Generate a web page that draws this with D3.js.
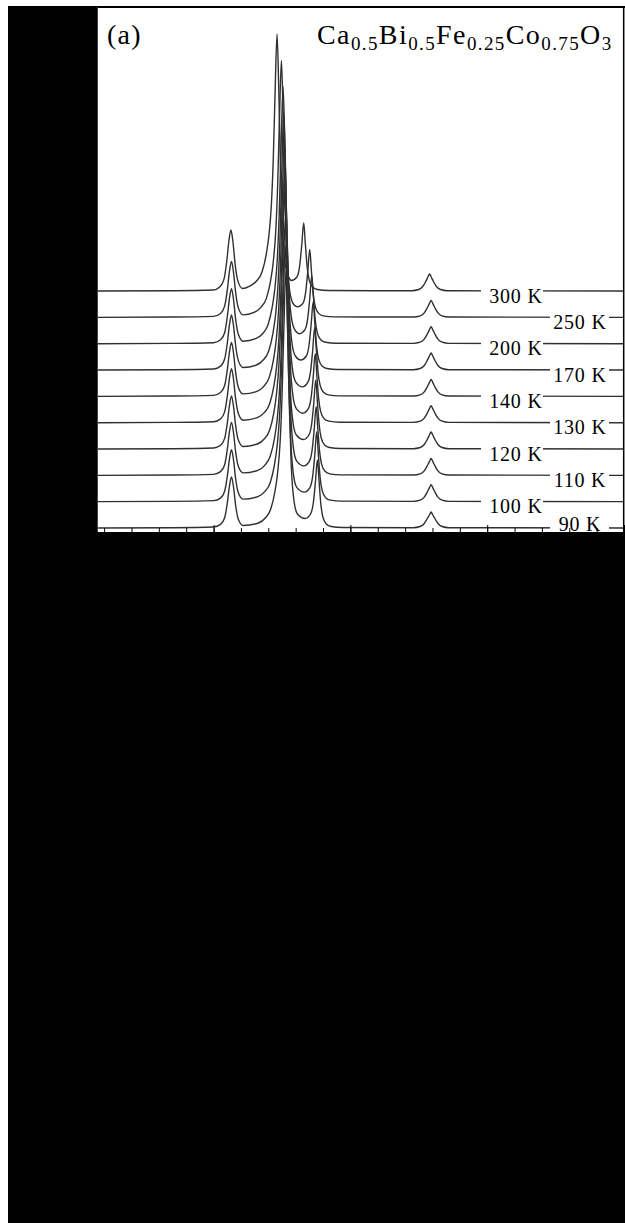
<!DOCTYPE html>
<html>
<head>
<meta charset="utf-8">
<script src="https://cdn.jsdelivr.net/npm/d3@7"></script>
<style>
  html, body { margin: 0; padding: 0; background: #fff; }
  svg { display: block; font-family: "Liberation Serif", "Times New Roman", serif; }
</style>
</head>
<body>
<div id="chart"></div>
<script>
// temperatures, top curve first
var temps = [300, 250, 200, 170, 140, 130, 120, 110, 100, 90];

// scans: [2theta, intensity]
var scan300 = [[5.150,3],[5.700,3.3],[5.997,4],[6.047,7.3],[6.077,15.2],[6.097,33.5],[6.112,53],[6.127,64],[6.142,51.8],[6.157,30.5],[6.177,13.4],[6.212,5.5],
  [6.264,8],[6.314,13],[6.354,22],[6.384,39],[6.404,58],[6.422,88],[6.436,133],[6.450,203],[6.464,260],[6.476,208],[6.489,128],[6.504,65],[6.524,30],[6.549,17],
  [6.569,13.5],[6.609,17],[6.629,28],[6.644,48],[6.659,71],[6.671,50],[6.684,27],[6.699,14],[6.724,7],[6.759,4.5],[6.839,3.5],
  [7.449,3.3],[7.499,4.5],[7.529,7.5],[7.549,12],[7.567,17],[7.579,20],[7.591,17],[7.609,12],[7.629,7.5],[7.659,4.5],[7.709,3.3],[9.000,3]];
var scan250 = [[5.150,3],[5.700,3.3],[6.001,4],[6.051,6.9],[6.081,14.2],[6.101,31],[6.116,48.9],[6.131,59],[6.146,47.8],[6.161,28.2],[6.181,12.5],[6.216,5.5],
  [6.296,8],[6.346,13],[6.386,22],[6.416,39],[6.436,58],[6.454,88],[6.468,133],[6.482,203],[6.496,260],[6.508,208],[6.521,128],[6.536,65],[6.556,30],[6.581,17],
  [6.613,13.5],[6.653,17],[6.673,28],[6.688,48],[6.703,71],[6.715,50],[6.728,27],[6.743,14],[6.768,7],[6.803,4.5],[6.883,3.5],
  [7.460,3.3],[7.510,4.5],[7.540,7.5],[7.560,12],[7.578,17],[7.590,20],[7.602,17],[7.620,12],[7.640,7.5],[7.670,4.5],[7.720,3.3],[9.000,3]];
var scan200 = [[5.150,3],[5.700,3.3],[6.001,4],[6.051,6.9],[6.081,14],[6.101,30.5],[6.116,48.1],[6.131,58],[6.146,47],[6.161,27.8],[6.181,12.4],[6.216,5.5],
  [6.308,8],[6.358,13],[6.398,22],[6.428,39],[6.448,58],[6.466,88],[6.480,133],[6.494,203],[6.508,260],[6.520,208],[6.533,128],[6.548,65],[6.568,30],[6.593,17],
  [6.628,13],[6.668,17],[6.688,28],[6.703,48],[6.718,71],[6.730,50],[6.743,27],[6.758,14],[6.783,7],[6.818,4.5],[6.898,3.5],
  [7.460,3.3],[7.510,4.5],[7.540,7.5],[7.560,12],[7.578,17],[7.590,20],[7.602,17],[7.620,12],[7.640,7.5],[7.670,4.5],[7.720,3.3],[9.000,3]];
var scan170 = [[5.150,3],[5.700,3.3],[6.001,4],[6.051,6.9],[6.081,14],[6.101,30.5],[6.116,48.1],[6.131,58],[6.146,47],[6.161,27.8],[6.181,12.4],[6.216,5.5],
  [6.313,8],[6.363,13],[6.403,22],[6.433,39],[6.453,58],[6.471,88],[6.485,133],[6.499,203],[6.513,260],[6.525,208],[6.538,128],[6.553,65],[6.573,30],[6.598,17],
  [6.638,13],[6.678,17],[6.698,28],[6.713,48],[6.728,71],[6.740,50],[6.753,27],[6.768,14],[6.793,7],[6.828,4.5],[6.908,3.5],
  [7.460,3.3],[7.510,4.5],[7.540,7.5],[7.560,12],[7.578,17],[7.590,20],[7.602,17],[7.620,12],[7.640,7.5],[7.670,4.5],[7.720,3.3],[9.000,3]];
var scan140 = [[5.150,3],[5.700,3.3],[6.001,4],[6.051,6.8],[6.081,13.8],[6.101,30],[6.116,47.3],[6.131,57],[6.146,46.2],[6.161,27.3],[6.181,12.2],[6.216,5.5],
  [6.317,8],[6.367,13],[6.407,22],[6.437,39],[6.457,58],[6.475,88],[6.489,133],[6.503,203],[6.517,260],[6.529,208],[6.542,128],[6.557,65],[6.577,30],[6.602,17],
  [6.649,12.5],[6.689,17],[6.709,28],[6.724,48],[6.739,72],[6.751,50],[6.764,27],[6.779,14],[6.804,7],[6.839,4.5],[6.919,3.5],
  [7.460,3.3],[7.510,4.5],[7.540,7.5],[7.560,12],[7.578,17],[7.590,20],[7.602,17],[7.620,12],[7.640,7.5],[7.670,4.5],[7.720,3.3],[9.000,3]];
var scan130 = [[5.150,3],[5.700,3.3],[6.001,4],[6.051,6.8],[6.081,13.8],[6.101,30],[6.116,47.3],[6.131,57],[6.146,46.2],[6.161,27.3],[6.181,12.2],[6.216,5.5],
  [6.320,8],[6.370,13],[6.410,22],[6.440,39],[6.460,58],[6.478,88],[6.492,133],[6.506,203],[6.520,260],[6.532,208],[6.545,128],[6.560,65],[6.580,30],[6.605,17],
  [6.653,12.5],[6.693,17],[6.713,28],[6.728,48],[6.743,72],[6.755,50],[6.768,27],[6.783,14],[6.808,7],[6.843,4.5],[6.923,3.5],
  [7.460,3.3],[7.510,4.5],[7.540,7.5],[7.560,12],[7.578,17],[7.590,20],[7.602,17],[7.620,12],[7.640,7.5],[7.670,4.5],[7.720,3.3],[9.000,3]];
var scan120 = [[5.150,3],[5.700,3.3],[6.001,4],[6.051,6.7],[6.081,13.6],[6.101,29.5],[6.116,46.5],[6.131,56],[6.146,45.4],[6.161,26.9],[6.181,12],[6.216,5.5],
  [6.320,8],[6.370,13],[6.410,22],[6.440,39],[6.460,58],[6.478,88],[6.492,133],[6.506,203],[6.520,260],[6.532,208],[6.545,128],[6.560,65],[6.580,30],[6.605,17],
  [6.657,12.5],[6.697,17],[6.717,28],[6.732,48],[6.747,72],[6.759,50],[6.772,27],[6.787,14],[6.812,7],[6.847,4.5],[6.927,3.5],
  [7.460,3.3],[7.510,4.5],[7.540,7.5],[7.560,12],[7.578,17],[7.590,20],[7.602,17],[7.620,12],[7.640,7.5],[7.670,4.5],[7.720,3.3],[9.000,3]];
var scan110 = [[5.150,3],[5.700,3.3],[6.001,4],[6.051,6.7],[6.081,13.6],[6.101,29.5],[6.116,46.5],[6.131,56],[6.146,45.4],[6.161,26.9],[6.181,12],[6.216,5.5],
  [6.324,8],[6.374,13],[6.414,22],[6.444,39],[6.464,58],[6.482,88],[6.496,133],[6.510,203],[6.524,260],[6.536,208],[6.549,128],[6.564,65],[6.584,30],[6.609,17],
  [6.660,12.5],[6.700,17],[6.720,28],[6.735,48],[6.750,72],[6.762,50],[6.775,27],[6.790,14],[6.815,7],[6.850,4.5],[6.930,3.5],
  [7.460,3.3],[7.510,4.5],[7.540,7.5],[7.560,12],[7.578,17],[7.590,20],[7.602,17],[7.620,12],[7.640,7.5],[7.670,4.5],[7.720,3.3],[9.000,3]];
var scan100 = [[5.150,3],[5.700,3.3],[6.001,4],[6.051,6.6],[6.081,13.4],[6.101,29],[6.116,45.6],[6.131,55],[6.146,44.6],[6.161,26.4],[6.181,11.8],[6.216,5.5],
  [6.324,8],[6.374,13],[6.414,22],[6.444,39],[6.464,58],[6.482,88],[6.496,133],[6.510,203],[6.524,260],[6.536,208],[6.549,128],[6.564,65],[6.584,30],[6.609,17],
  [6.664,12.5],[6.704,17],[6.724,28],[6.739,48],[6.754,73],[6.766,50],[6.779,27],[6.794,14],[6.819,7],[6.854,4.5],[6.934,3.5],
  [7.460,3.3],[7.510,4.5],[7.540,7.5],[7.560,12],[7.578,17],[7.590,20],[7.602,17],[7.620,12],[7.640,7.5],[7.670,4.5],[7.720,3.3],[9.000,3]];
var scan90 = [[5.150,3],[5.700,3.3],[6.001,4],[6.051,6.6],[6.081,13.2],[6.101,28.5],[6.116,44.8],[6.131,54],[6.146,43.8],[6.161,26],[6.181,11.7],[6.216,5.5],
  [6.328,8],[6.378,13],[6.418,22],[6.448,39],[6.468,58],[6.486,88],[6.500,133],[6.514,203],[6.528,260],[6.540,208],[6.553,128],[6.568,65],[6.588,30],[6.613,17],
  [6.669,12.5],[6.709,17],[6.729,28],[6.744,48],[6.759,71],[6.771,50],[6.784,27],[6.799,14],[6.824,7],[6.859,4.5],[6.939,3.5],
  [7.460,3.3],[7.510,4.5],[7.540,7.5],[7.560,12],[7.578,16],[7.590,19],[7.602,16],[7.620,12],[7.640,7.5],[7.670,4.5],[7.720,3.3],[9.000,3]];

var scans = [scan300, scan250, scan200, scan170, scan140, scan130, scan120, scan110, scan100, scan90];

var offsetStep = 26.33;          // waterfall shift between scans
var majorTicks = [6, 7, 8, 9];
var minorTicks = d3.range(5.2, 9.001, 0.2);

var width = 625, height = 1223;
var plot = { left: 97, right: 624, top: 7, bottom: 532 };

var svg = d3.select('#chart').append('svg')
  .attr('width', width)
  .attr('height', height);

// black surround, white plot panel
svg.append('rect').attr('x', 8).attr('y', 6).attr('width', width - 8).attr('height', height - 6).attr('fill', '#000');
svg.append('rect').attr('x', plot.left).attr('y', plot.top)
  .attr('width', width - plot.left).attr('height', plot.bottom - plot.top).attr('fill', '#fff');

var x = d3.scaleLinear().domain([5.148, 9.0]).range([plot.left, plot.right]);
var y = d3.scaleLinear().domain([0, 525]).range([531, 6]);

var line = d3.line()
  .x(d => x(d[0]))
  .y(d => y(d[1]))
  .curve(d3.curveMonotoneX);

var curves = svg.append('g');
scans.forEach(function(scan, i) {
  var shift = (temps.length - 1 - i) * offsetStep;
  curves.append('path')
    .datum(scan.map(d => [d[0], d[1] + shift]))
    .attr('fill', 'none')
    .attr('stroke', '#303030')
    .attr('stroke-width', 1.4)
    .attr('d', line);
});

// temperature labels, alternating columns, line broken under the text
var labels = svg.append('g');
temps.forEach(function(t, i) {
  var shift = (temps.length - 1 - i) * offsetStep;
  var ly = y(3 + shift);
  var left = i % 2 === 0;
  var last = i === temps.length - 1;
  var gap = left ? [481, 543] : [550, 609];
  labels.append('rect')
    .attr('x', gap[0]).attr('y', ly - 3)
    .attr('width', gap[1] - gap[0]).attr('height', 6)
    .attr('fill', '#fff');
  labels.append('text')
    .attr('x', left ? 516 : 580)
    .attr('y', last ? ly + 2.5 : ly + 11.5)
    .attr('text-anchor', 'middle')
    .attr('font-size', 20)
    .attr('letter-spacing', 0.8)
    .attr('fill', '#000')
    .text(t + ' K');
});

// bottom axis, ticks pointing inward
svg.append('g')
  .attr('transform', `translate(0, ${plot.bottom})`)
  .call(d3.axisBottom(x).tickValues(minorTicks).tickSize(-4).tickSizeOuter(0).tickFormat(''))
  .call(g => g.select('.domain').attr('stroke', '#000').attr('stroke-width', 1.2));
svg.append('g')
  .attr('transform', `translate(0, ${plot.bottom})`)
  .call(d3.axisBottom(x).tickValues(majorTicks).tickSize(-7).tickSizeOuter(0).tickFormat(''))
  .call(g => g.select('.domain').remove());

// frame
svg.append('line').attr('x1', plot.left).attr('x2', width).attr('y1', plot.top).attr('y2', plot.top)
  .attr('stroke', '#000').attr('stroke-width', 2);
svg.append('line').attr('x1', 623.7).attr('x2', 623.7).attr('y1', plot.top).attr('y2', plot.bottom)
  .attr('stroke', '#000').attr('stroke-width', 1.5);
svg.append('line').attr('x1', plot.left + 0.5).attr('x2', plot.left + 0.5).attr('y1', plot.top).attr('y2', plot.bottom)
  .attr('stroke', '#444').attr('stroke-width', 1);

// panel tag and compound
svg.append('text')
  .attr('x', 107).attr('y', 43.5)
  .attr('font-size', 28)
  .attr('letter-spacing', 1.2)
  .text('(a)');

var formula = [['Ca', 0], ['0.5', 1], ['Bi', 0], ['0.5', 1], ['Fe', 0], ['0.25', 1], ['Co', 0], ['0.75', 1], ['O', 0], ['3', 1]];
var ft = svg.append('text')
  .attr('x', 317).attr('y', 43.5)
  .attr('font-size', 28)
  .attr('letter-spacing', 1.4);
var prev = 0;
formula.forEach(function(p) {
  ft.append('tspan')
    .attr('dy', p[1] === prev ? 0 : (p[1] ? 6.5 : -6.5))
    .attr('font-size', p[1] ? 19 : 28)
    .text(p[0]);
  prev = p[1];
});
</script>
</body>
</html>
